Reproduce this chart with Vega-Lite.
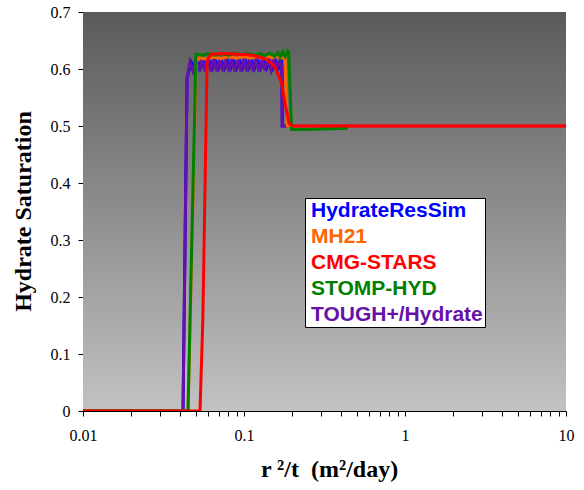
{
  "$schema": "https://vega.github.io/schema/vega-lite/v6.json",
  "width": 483,
  "height": 399,
  "autosize": {"type": "none"},
  "padding": {"left": 83, "top": 12, "right": 18, "bottom": 79},
  "background": "white",
  "config": {"view": {"stroke": null}},
  "datasets": {
    "series": [
      {"model": "HydrateResSim", "x": 0.01, "y": 0},
      {"model": "HydrateResSim", "x": 0.0418, "y": 0},
      {"model": "HydrateResSim", "x": 0.0443, "y": 0.585},
      {"model": "HydrateResSim", "x": 0.0470, "y": 0.612},
      {"model": "HydrateResSim", "x": 0.0492, "y": 0.601},
      {"model": "HydrateResSim", "x": 0.0514, "y": 0.614},
      {"model": "HydrateResSim", "x": 0.0536, "y": 0.601},
      {"model": "HydrateResSim", "x": 0.0561, "y": 0.614},
      {"model": "HydrateResSim", "x": 0.0585, "y": 0.601},
      {"model": "HydrateResSim", "x": 0.0611, "y": 0.614},
      {"model": "HydrateResSim", "x": 0.0638, "y": 0.601},
      {"model": "HydrateResSim", "x": 0.0665, "y": 0.614},
      {"model": "HydrateResSim", "x": 0.0695, "y": 0.601},
      {"model": "HydrateResSim", "x": 0.0725, "y": 0.614},
      {"model": "HydrateResSim", "x": 0.0757, "y": 0.601},
      {"model": "HydrateResSim", "x": 0.0790, "y": 0.614},
      {"model": "HydrateResSim", "x": 0.0825, "y": 0.601},
      {"model": "HydrateResSim", "x": 0.0860, "y": 0.614},
      {"model": "HydrateResSim", "x": 0.0898, "y": 0.601},
      {"model": "HydrateResSim", "x": 0.0938, "y": 0.614},
      {"model": "HydrateResSim", "x": 0.0979, "y": 0.601},
      {"model": "HydrateResSim", "x": 0.1022, "y": 0.614},
      {"model": "HydrateResSim", "x": 0.1067, "y": 0.601},
      {"model": "HydrateResSim", "x": 0.1114, "y": 0.614},
      {"model": "HydrateResSim", "x": 0.1162, "y": 0.601},
      {"model": "HydrateResSim", "x": 0.1213, "y": 0.614},
      {"model": "HydrateResSim", "x": 0.1266, "y": 0.601},
      {"model": "HydrateResSim", "x": 0.1321, "y": 0.614},
      {"model": "HydrateResSim", "x": 0.1379, "y": 0.601},
      {"model": "HydrateResSim", "x": 0.1441, "y": 0.614},
      {"model": "HydrateResSim", "x": 0.1503, "y": 0.601},
      {"model": "HydrateResSim", "x": 0.1569, "y": 0.614},
      {"model": "HydrateResSim", "x": 0.1638, "y": 0.602},
      {"model": "HydrateResSim", "x": 0.1709, "y": 0.612},
      {"model": "HydrateResSim", "x": 0.1720, "y": 0.605},
      {"model": "HydrateResSim", "x": 0.1730, "y": 0.5},
      {"model": "HydrateResSim", "x": 10, "y": 0.5},

      {"model": "TOUGH+/Hydrate", "x": 0.01, "y": 0},
      {"model": "TOUGH+/Hydrate", "x": 0.0418, "y": 0},
      {"model": "TOUGH+/Hydrate", "x": 0.0443, "y": 0.585},
      {"model": "TOUGH+/Hydrate", "x": 0.0462, "y": 0.612},
      {"model": "TOUGH+/Hydrate", "x": 0.0482, "y": 0.597},
      {"model": "TOUGH+/Hydrate", "x": 0.0503, "y": 0.618},
      {"model": "TOUGH+/Hydrate", "x": 0.0525, "y": 0.596},
      {"model": "TOUGH+/Hydrate", "x": 0.0549, "y": 0.618},
      {"model": "TOUGH+/Hydrate", "x": 0.0573, "y": 0.596},
      {"model": "TOUGH+/Hydrate", "x": 0.0598, "y": 0.618},
      {"model": "TOUGH+/Hydrate", "x": 0.0624, "y": 0.596},
      {"model": "TOUGH+/Hydrate", "x": 0.0651, "y": 0.618},
      {"model": "TOUGH+/Hydrate", "x": 0.0680, "y": 0.596},
      {"model": "TOUGH+/Hydrate", "x": 0.0710, "y": 0.618},
      {"model": "TOUGH+/Hydrate", "x": 0.0741, "y": 0.596},
      {"model": "TOUGH+/Hydrate", "x": 0.0773, "y": 0.618},
      {"model": "TOUGH+/Hydrate", "x": 0.0807, "y": 0.596},
      {"model": "TOUGH+/Hydrate", "x": 0.0842, "y": 0.618},
      {"model": "TOUGH+/Hydrate", "x": 0.0879, "y": 0.596},
      {"model": "TOUGH+/Hydrate", "x": 0.0918, "y": 0.618},
      {"model": "TOUGH+/Hydrate", "x": 0.0958, "y": 0.596},
      {"model": "TOUGH+/Hydrate", "x": 0.1000, "y": 0.618},
      {"model": "TOUGH+/Hydrate", "x": 0.1044, "y": 0.596},
      {"model": "TOUGH+/Hydrate", "x": 0.1090, "y": 0.618},
      {"model": "TOUGH+/Hydrate", "x": 0.1137, "y": 0.596},
      {"model": "TOUGH+/Hydrate", "x": 0.1187, "y": 0.618},
      {"model": "TOUGH+/Hydrate", "x": 0.1239, "y": 0.596},
      {"model": "TOUGH+/Hydrate", "x": 0.1293, "y": 0.618},
      {"model": "TOUGH+/Hydrate", "x": 0.1350, "y": 0.597},
      {"model": "TOUGH+/Hydrate", "x": 0.1410, "y": 0.618},
      {"model": "TOUGH+/Hydrate", "x": 0.1471, "y": 0.598},
      {"model": "TOUGH+/Hydrate", "x": 0.1536, "y": 0.617},
      {"model": "TOUGH+/Hydrate", "x": 0.1603, "y": 0.600},
      {"model": "TOUGH+/Hydrate", "x": 0.1673, "y": 0.615},
      {"model": "TOUGH+/Hydrate", "x": 0.1715, "y": 0.605},
      {"model": "TOUGH+/Hydrate", "x": 0.1725, "y": 0.5},
      {"model": "TOUGH+/Hydrate", "x": 10, "y": 0.5},

      {"model": "MH21", "x": 0.01, "y": 0},
      {"model": "MH21", "x": 0.0449, "y": 0},
      {"model": "MH21", "x": 0.0505, "y": 0.612},
      {"model": "MH21", "x": 0.0525, "y": 0.620},
      {"model": "MH21", "x": 0.0580, "y": 0.617},
      {"model": "MH21", "x": 0.0650, "y": 0.621},
      {"model": "MH21", "x": 0.0720, "y": 0.618},
      {"model": "MH21", "x": 0.0800, "y": 0.622},
      {"model": "MH21", "x": 0.0900, "y": 0.619},
      {"model": "MH21", "x": 0.1000, "y": 0.622},
      {"model": "MH21", "x": 0.1100, "y": 0.619},
      {"model": "MH21", "x": 0.1200, "y": 0.622},
      {"model": "MH21", "x": 0.1300, "y": 0.619},
      {"model": "MH21", "x": 0.1400, "y": 0.622},
      {"model": "MH21", "x": 0.1500, "y": 0.620},
      {"model": "MH21", "x": 0.1600, "y": 0.622},
      {"model": "MH21", "x": 0.1700, "y": 0.620},
      {"model": "MH21", "x": 0.1800, "y": 0.618},
      {"model": "MH21", "x": 0.1825, "y": 0.560},
      {"model": "MH21", "x": 0.1860, "y": 0.5},
      {"model": "MH21", "x": 10, "y": 0.5},

      {"model": "STOMP-HYD", "x": 0.01, "y": 0},
      {"model": "STOMP-HYD", "x": 0.0449, "y": 0},
      {"model": "STOMP-HYD", "x": 0.0503, "y": 0.626},
      {"model": "STOMP-HYD", "x": 0.0550, "y": 0.624},
      {"model": "STOMP-HYD", "x": 0.0600, "y": 0.627},
      {"model": "STOMP-HYD", "x": 0.0660, "y": 0.624},
      {"model": "STOMP-HYD", "x": 0.0730, "y": 0.627},
      {"model": "STOMP-HYD", "x": 0.0800, "y": 0.624},
      {"model": "STOMP-HYD", "x": 0.0880, "y": 0.627},
      {"model": "STOMP-HYD", "x": 0.0960, "y": 0.625},
      {"model": "STOMP-HYD", "x": 0.1050, "y": 0.627},
      {"model": "STOMP-HYD", "x": 0.1150, "y": 0.624},
      {"model": "STOMP-HYD", "x": 0.1250, "y": 0.627},
      {"model": "STOMP-HYD", "x": 0.1350, "y": 0.623},
      {"model": "STOMP-HYD", "x": 0.1450, "y": 0.628},
      {"model": "STOMP-HYD", "x": 0.1550, "y": 0.622},
      {"model": "STOMP-HYD", "x": 0.1620, "y": 0.629},
      {"model": "STOMP-HYD", "x": 0.1680, "y": 0.621},
      {"model": "STOMP-HYD", "x": 0.1740, "y": 0.630},
      {"model": "STOMP-HYD", "x": 0.1800, "y": 0.622},
      {"model": "STOMP-HYD", "x": 0.1860, "y": 0.632},
      {"model": "STOMP-HYD", "x": 0.1895, "y": 0.630},
      {"model": "STOMP-HYD", "x": 0.1975, "y": 0.494},
      {"model": "STOMP-HYD", "x": 0.2500, "y": 0.494},
      {"model": "STOMP-HYD", "x": 0.3500, "y": 0.495},
      {"model": "STOMP-HYD", "x": 0.4400, "y": 0.496},

      {"model": "CMG-STARS", "x": 0.01, "y": 0},
      {"model": "CMG-STARS", "x": 0.0533, "y": 0},
      {"model": "CMG-STARS", "x": 0.0555, "y": 0.16},
      {"model": "CMG-STARS", "x": 0.0590, "y": 0.615},
      {"model": "CMG-STARS", "x": 0.0624, "y": 0.626},
      {"model": "CMG-STARS", "x": 0.0750, "y": 0.627},
      {"model": "CMG-STARS", "x": 0.0900, "y": 0.626},
      {"model": "CMG-STARS", "x": 0.1044, "y": 0.625},
      {"model": "CMG-STARS", "x": 0.1137, "y": 0.624},
      {"model": "CMG-STARS", "x": 0.1293, "y": 0.620},
      {"model": "CMG-STARS", "x": 0.1410, "y": 0.615},
      {"model": "CMG-STARS", "x": 0.1536, "y": 0.606},
      {"model": "CMG-STARS", "x": 0.1603, "y": 0.595},
      {"model": "CMG-STARS", "x": 0.1710, "y": 0.575},
      {"model": "CMG-STARS", "x": 0.1800, "y": 0.540},
      {"model": "CMG-STARS", "x": 0.1903, "y": 0.505},
      {"model": "CMG-STARS", "x": 0.2000, "y": 0.5},
      {"model": "CMG-STARS", "x": 10, "y": 0.5}
    ]
  },
  "layer": [
    {
      "data": {"values": [{}]},
      "mark": {
        "type": "rect",
        "fill": {
          "gradient": "linear",
          "x1": 0, "y1": 0, "x2": 0, "y2": 1,
          "stops": [
            {"offset": 0, "color": "#5a5a5a"},
            {"offset": 1, "color": "#c2c2c2"}
          ]
        }
      },
      "encoding": {}
    },
    {
      "data": {"name": "series"},
      "mark": {"type": "line", "strokeWidth": 3, "clip": true},
      "encoding": {
        "x": {
          "field": "x",
          "type": "quantitative",
          "scale": {"type": "log", "domain": [0.01, 10], "nice": false},
          "axis": {
            "values": [0.01, 0.02, 0.03, 0.04, 0.05, 0.06, 0.07, 0.08, 0.09, 0.1, 0.2, 0.3, 0.4, 0.5, 0.6, 0.7, 0.8, 0.9, 1, 2, 3, 4, 5, 6, 7, 8, 9, 10],
            "labelExpr": "datum.value == 0.01 ? '0.01' : datum.value == 0.1 ? '0.1' : datum.value == 1 ? '1' : datum.value == 10 ? '10' : ''",
            "grid": false,
            "domainColor": "black",
            "tickColor": "black",
            "tickSize": 5,
            "labelPadding": 11,
            "labelFont": "Liberation Serif",
            "labelFontSize": 16,
            "labelColor": "black",
            "labelFlush": false,
            "labelOverlap": false,
            "title": "r ²/t\u00a0\u00a0(m²/day)",
            "titleFont": "Liberation Serif",
            "titleFontSize": 24,
            "titleFontWeight": "bold",
            "titleColor": "black",
            "titleX": 246,
            "titleY": 65,
            "titleBaseline": "alphabetic"
          }
        },
        "y": {
          "field": "y",
          "type": "quantitative",
          "scale": {"domain": [0, 0.7], "nice": false, "zero": true},
          "axis": {
            "values": [0, 0.1, 0.2, 0.3, 0.4, 0.5, 0.6, 0.7],
            "labelExpr": "datum.value == 0 ? '0' : format(datum.value, '.1f')",
            "grid": false,
            "domainColor": "black",
            "tickColor": "black",
            "tickSize": 5,
            "labelPadding": 8,
            "labelFont": "Liberation Serif",
            "labelFontSize": 16,
            "labelColor": "black",
            "labelFlush": false,
            "labelOverlap": false,
            "title": "Hydrate Saturation",
            "titleFont": "Liberation Serif",
            "titleFontSize": 24,
            "titleFontWeight": "bold",
            "titleColor": "black",
            "titleAngle": -90,
            "titleX": -60,
            "titleY": 199,
            "titleAlign": "center",
            "titleBaseline": "middle"
          }
        },
        "color": {
          "field": "model",
          "type": "nominal",
          "scale": {
            "domain": ["HydrateResSim", "MH21", "CMG-STARS", "STOMP-HYD", "TOUGH+/Hydrate"],
            "range": ["#0000FF", "#FF6600", "#FF0000", "#008000", "#6611AA"]
          },
          "legend": {
            "orient": "none",
            "legendX": 222,
            "legendY": 186,
            "title": null,
            "fillColor": "white",
            "strokeColor": "black",
            "padding": 2,
            "symbolSize": 0,
            "symbolStrokeWidth": 0,
            "labelOffset": -17,
            "labelFont": "Liberation Sans",
            "labelFontWeight": "bold",
            "labelFontSize": 21,
            "labelLimit": 400,
            "labelColor": {"expr": "scale('color', datum.value)"},
            "rowPadding": 4
          }
        }
      }
    }
  ]
}
